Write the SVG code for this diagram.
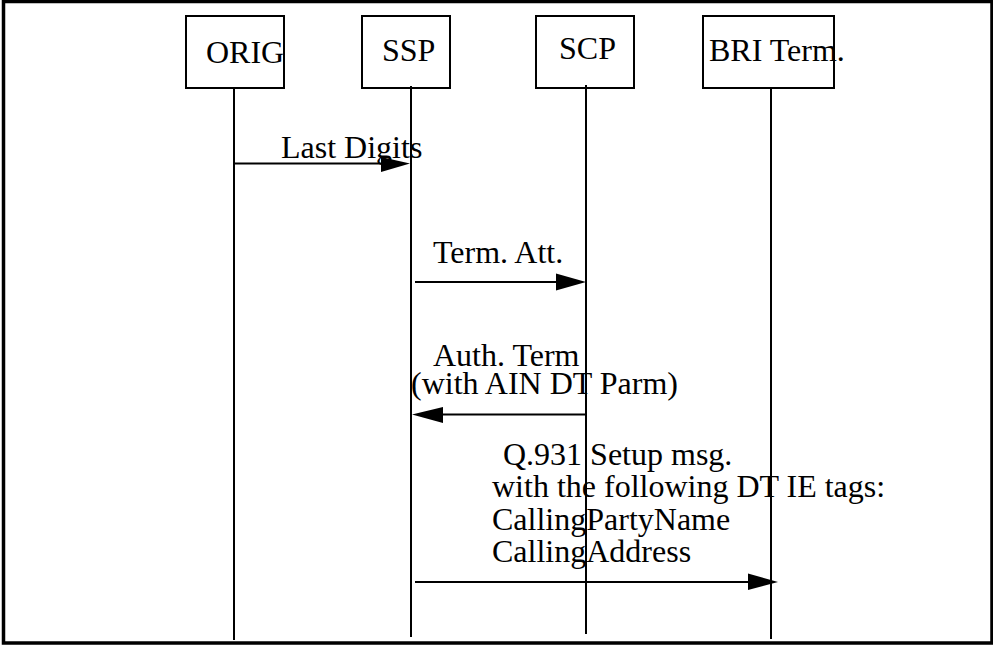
<svg xmlns="http://www.w3.org/2000/svg" width="993" height="646" viewBox="0 0 993 646">
  <defs>
    <style>
      .frame { fill: none; stroke: #000; stroke-width: 3.5; }
      .box { fill: #fff; stroke: #000; stroke-width: 2; }
      .life { stroke: #000; stroke-width: 2; fill: none; }
      .msg { stroke: #000; stroke-width: 2; fill: none; }
      .head { fill: #000; stroke: none; }
      text { font-family: "Liberation Serif", "Times New Roman", serif; font-size: 32px; fill: #000; }
    </style>
  </defs>
  <rect width="993" height="646" fill="#fff"/>
  <rect class="frame" x="3.5" y="1.5" width="988.5" height="641.5"/>

  <!-- participants -->
  <g id="orig">
    <rect class="box" x="186" y="16" width="98" height="72"/>
    <text x="206" y="63">ORIG</text>
  </g>
  <g id="ssp">
    <rect class="box" x="362" y="16" width="88" height="72"/>
    <text x="382" y="61">SSP</text>
  </g>
  <g id="scp">
    <rect class="box" x="536" y="16" width="98" height="72"/>
    <text x="559" y="59">SCP</text>
  </g>
  <g id="bri">
    <rect class="box" x="703" y="16" width="131" height="72"/>
    <text x="709" y="61">BRI Term.</text>
  </g>

  <!-- lifelines and messages -->
  <g id="connectors">
    <line class="life" x1="234" y1="88" x2="234" y2="640"/>
    <line class="life" x1="411" y1="86" x2="411" y2="637"/>
    <line class="life" x1="586" y1="85" x2="586" y2="634"/>
    <line class="life" x1="771" y1="88" x2="771" y2="639"/>

    <line class="msg" x1="234" y1="163.5" x2="385" y2="163.5"/>
    <polygon class="head" points="381,157 410,163.5 381,172"/>

    <line class="msg" x1="415" y1="282" x2="560" y2="282"/>
    <polygon class="head" points="556,273.5 586,282 556,290.5"/>

    <line class="msg" x1="586" y1="414.5" x2="440" y2="414.5"/>
    <polygon class="head" points="443,407 412,414.5 443,423"/>

    <line class="msg" x1="415" y1="582" x2="752" y2="582"/>
    <polygon class="head" points="748,573.5 778,582 748,590"/>
  </g>

  <!-- message labels -->
  <g id="labels">
    <text x="281" y="158">Last Digits</text>
    <text x="433" y="263">Term. Att.</text>
    <text x="433" y="366">Auth. Term</text>
    <text x="411" y="394">(with AIN DT Parm)</text>
    <text x="503" y="465">Q.931 Setup msg.</text>
    <text x="492" y="497">with the following DT IE tags:</text>
    <text x="492" y="530">CallingPartyName</text>
    <text x="492" y="562">CallingAddress</text>
  </g>
</svg>
